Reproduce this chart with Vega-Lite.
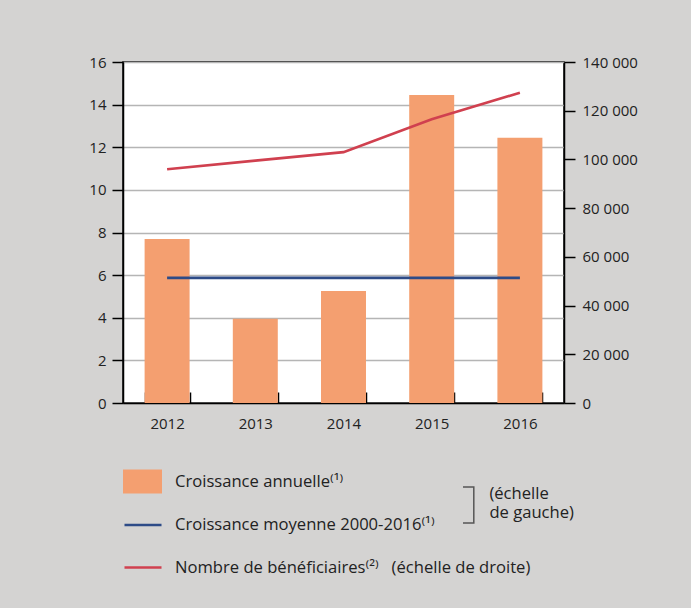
{
  "$schema": "https://vega.github.io/schema/vega-lite/v6.json",
  "width": 441,
  "height": 341,
  "autosize": {"type": "none"},
  "padding": {"left": 123, "top": 62, "right": 127, "bottom": 205},
  "background": "#d4d3d2",
  "config": {
    "font": "Open Sans",
    "view": {"stroke": "#000", "strokeWidth": 1.5, "fill": "#ffffff"},
    "axis": {"labelFontSize": 15, "labelColor": "#222222", "domainColor": "#000000", "domainWidth": 1.5, "tickColor": "#000000", "tickWidth": 1.5, "title": null},
    "legend": {"padding": 0, "labelFontSize": 16.6, "labelColor": "#222222", "labelLimit": 600}
  },
  "data": {
    "values": [
      {"year": "2012", "croissance": 7.7, "moyenne": 5.87, "beneficiaires": 96000},
      {"year": "2013", "croissance": 3.95, "moyenne": 5.87, "beneficiaires": 99500},
      {"year": "2014", "croissance": 5.25, "moyenne": 5.87, "beneficiaires": 103000},
      {"year": "2015", "croissance": 14.45, "moyenne": 5.87, "beneficiaires": 116500},
      {"year": "2016", "croissance": 12.45, "moyenne": 5.87, "beneficiaires": 127400}
    ]
  },
  "encoding": {
    "x": {
      "field": "year",
      "type": "ordinal",
      "scale": {"paddingInner": 0.49, "paddingOuter": 0.245},
      "axis": {"labelAngle": 0, "tickBand": "extent", "tickSize": -11, "labelPadding": 24, "title": null}
    }
  },
  "layer": [
    {
      "layer": [
        {
          "mark": {"type": "bar"},
          "encoding": {
            "y": {
              "field": "croissance",
              "type": "quantitative",
              "scale": {"domain": [0, 16], "nice": false},
              "axis": {"orient": "left", "values": [0, 2, 4, 6, 8, 10, 12, 14, 16], "grid": true, "gridColor": "#b5b5b5", "gridWidth": 1.3, "tickSize": 11, "labelPadding": 6, "title": null}
            },
            "fill": {
              "datum": "Croissance annuelle⁽¹⁾",
              "scale": {"range": ["#f49f70"]},
              "legend": {"orient": "none", "legendX": 0, "legendY": 400, "title": null, "symbolType": "M-1,-0.615H1V0.615H-1Z", "symbolSize": 1521, "symbolStrokeWidth": 0, "labelOffset": 13}
            }
          }
        },
        {
          "mark": {"type": "line", "strokeWidth": 2.6},
          "encoding": {
            "y": {"field": "moyenne", "type": "quantitative"},
            "stroke": {
              "datum": "Croissance moyenne 2000-2016⁽¹⁾",
              "scale": {"domain": ["Croissance moyenne 2000-2016⁽¹⁾", "Nombre de bénéficiaires⁽²⁾\u00a0\u00a0 (échelle de droite)"], "range": ["#2d4b87", "#d0404f"]},
              "legend": {"orient": "none", "legendX": 0, "legendY": 443, "title": null, "symbolType": "stroke", "symbolSize": 1369, "symbolStrokeWidth": 2.6, "rowPadding": 13.5, "labelOffset": 12}
            }
          }
        },
        {
          "data": {"values": []},
          "mark": {"type": "point", "color": "#222222", "filled": false},
          "encoding": {
            "shape": {
              "datum": "gauche",
              "scale": {"range": ["M-0.3,-0.39H0.3V1.61H-0.3"]},
              "legend": {"orient": "none", "legendX": 326.4, "legendY": 413, "title": null, "symbolSize": 1296, "symbolStrokeColor": "#222222", "symbolFillColor": "transparent", "symbolStrokeWidth": 1.5, "labelOffset": 2, "labelExpr": "['(échelle', 'de gauche)']"}
            }
          }
        }
      ]
    },
    {
      "mark": {"type": "line", "strokeWidth": 2.6},
      "encoding": {
        "y": {
          "field": "beneficiaires",
          "type": "quantitative",
          "scale": {"domain": [0, 140000], "nice": false},
          "axis": {"orient": "right", "values": [0, 20000, 40000, 60000, 80000, 100000, 120000, 140000], "grid": false, "tickSize": 11, "labelPadding": 7, "labelExpr": "replace(format(datum.value, ','), ',', ' ')", "title": null}
        },
        "stroke": {"datum": "Nombre de bénéficiaires⁽²⁾\u00a0\u00a0 (échelle de droite)"}
      }
    }
  ],
  "resolve": {"scale": {"y": "independent"}}
}
